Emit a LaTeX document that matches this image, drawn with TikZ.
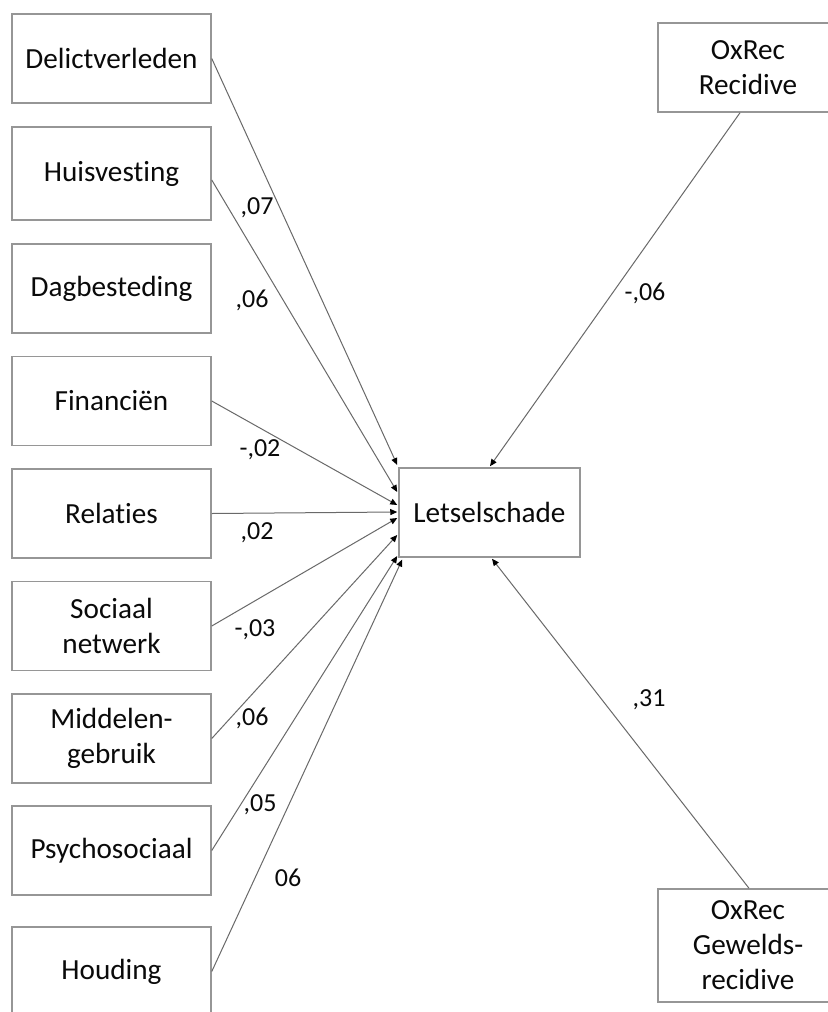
\documentclass[tikz,border=0pt]{standalone}
\usepackage{fontspec}
\setmainfont{Carlito}[Ligatures=NoCommon]
\usetikzlibrary{arrows.meta,calc}
\definecolor{boxline}{RGB}{150,150,150}
\definecolor{connline}{RGB}{105,105,105}
\definecolor{txt}{RGB}{10,10,10}
\begin{document}
\begin{tikzpicture}[x=0.5pt,y=-0.5pt,
  box/.style={draw=boxline,line width=0.75pt,fill=white,minimum width=99.5pt,minimum height=44.5pt,inner sep=0pt,align=center,font=\fontsize{14.6}{17.5}\selectfont,text=txt},
  coef/.style={font=\fontsize{13}{15}\selectfont,text=txt,inner sep=0pt},
  edgeline/.style={draw=connline,line width=0.5pt,-{Triangle[length=3.5pt,width=3pt,color=black]}}]
\useasboundingbox (0,0) rectangle (828,1012);
\clip (0,0) rectangle (828,1012);
\fill[white] (0,0) rectangle (828,1012);
% left boxes
\node[box] (delict) at (111.5,58.5) {Delictverleden};
\node[box,minimum height=46.5pt] (huis) at (111.5,173.5) {Huisvesting};
\node[box] (dag) at (111.5,288.5) {Dagbesteding};
\node[box] (fin) at (111.5,401) {Financiën};
\node[box] (rel) at (111.5,513.5) {Relaties};
\node[box] (soc) at (111.5,626) {Sociaal\\netwerk};
\node[box] (mid) at (111.5,738.5) {Middelen-\\gebruik};
\node[box] (psy) at (111.5,850.5) {Psychosociaal};
\node[box] (hou) at (111.5,971.5) {Houding};
% centre and right boxes
\node[box,minimum width=90.5pt] (let) at (489.5,512.5) {Letselschade};
\node[box,minimum width=90pt] (rec) at (748,67.5) {OxRec\\Recidive};
\node[box,minimum width=90pt,minimum height=56.5pt] (gew) at (748,945.5) {OxRec\\Gewelds-\\recidive};
% connectors
\draw[edgeline] (delict.east) -- ($(let.west)+(-1,-47.5)$);
\draw[edgeline] ([yshift=-3.25pt]huis.east) -- ($(let.west)+(-1,-20.5)$);
\draw[edgeline] (fin.east) -- ($(let.west)+(-1,-7.5)$);
\draw[edgeline] (rel.east) -- ($(let.west)+(-1,-0.5)$);
\draw[edgeline] (soc.east) -- ($(let.west)+(-1,5.5)$);
\draw[edgeline] (mid.east) -- ($(let.west)+(-1,22.5)$);
\draw[edgeline] (psy.east) -- ($(let.west)+(-1,43.5)$);
\draw[edgeline] (hou.east) -- ($(let.west)+(4,47)$);
\draw[edgeline] ([xshift=-4pt]rec.south) -- ($(let.north)+(0.5,-1)$);
\draw[edgeline] ([xshift=0.5pt]gew.north) -- ($(let.south)+(2.5,1)$);
% coefficients
\node[coef] (c1) at (257,208) {,07};
\node[coef] (c2) at (252,300) {,06};
\node[coef] (c3) at (260,450) {-,02};
\node[coef] (c4) at (257,533) {,02};
\node[coef] (c5) at (255,630) {-,03};
\node[coef] (c6) at (252,718) {,06};
\node[coef] (c7) at (260,805) {,05};
\node[coef] (c8) at (288,878) {06};
\node[coef] (c9) at (645,293) {-,06};
\node[coef] (c10) at (649,700) {,31};
\end{tikzpicture}
\end{document}
